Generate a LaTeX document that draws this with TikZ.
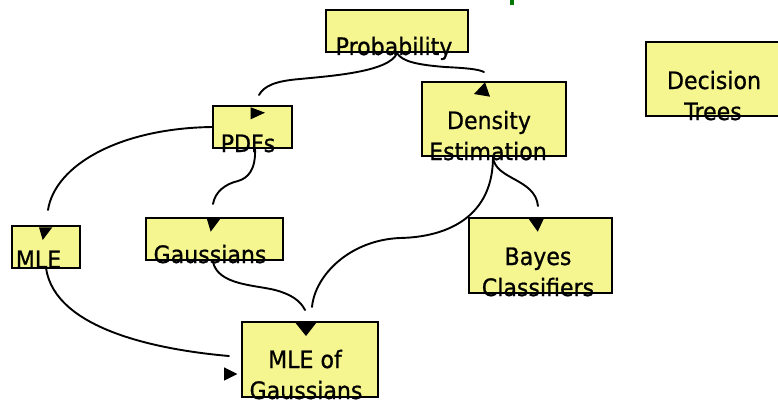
\documentclass[tikz,border=0pt]{standalone}
\usepackage{fontspec}
\setmainfont{DejaVu Sans}[FakeStretch=0.92,FakeBold=0.8]
\definecolor{boxfill}{RGB}{246,246,145}
\definecolor{titlegreen}{RGB}{0,120,0}
\tikzset{
  box/.style={draw=black, line width=2pt, fill=boxfill, inner sep=0pt, outer sep=0pt},
  lbl/.style={anchor=base, inner sep=0pt, text=black, font=\fontsize{24}{28}\selectfont},
  conn/.style={line width=1.9pt, line cap=round},
  tri/.style={fill=black}
}
\begin{document}
\begin{tikzpicture}[x=1pt,y=-1pt]
\useasboundingbox (0,0) rectangle (778,404);
% title fragment
\fill[titlegreen] (510,-1) rectangle (513.5,5);
% boxes
\node[box, minimum width=142pt, minimum height=42pt] (prob)  at (397,31) {};
\node[box, minimum width=144pt, minimum height=74pt] (dens)  at (494,119) {};
\node[box, minimum width=134pt, minimum height=74pt] (dec)   at (713,79) {};
\node[box, minimum width=79pt,  minimum height=42pt] (pdfs)  at (252.5,127) {};
\node[box, minimum width=68pt,  minimum height=42pt] (mle)   at (46,247) {};
\node[box, minimum width=137pt, minimum height=42pt] (gauss) at (214.5,239) {};
\node[box, minimum width=136pt, minimum height=75pt] (mleg)  at (310,359.5) {};
\node[box, minimum width=143pt, minimum height=75pt] (bayes) at (540.5,255.5) {};
% labels
\node[lbl] (tprob)  at (394,55)  {Probability};
\node[lbl] (tdens1) at (489,129) {Density};
\node[lbl] (tdens2) at (488,160) {Estimation};
\node[lbl] (tdec1)  at (714,89)  {Decision};
\node[lbl] (tdec2)  at (713,120) {Trees};
\node[lbl] (tpdfs)  at (248,152) {PDFs};
\node[lbl] (tmle)   at (38.5,268) {MLE};
\node[lbl] (tgauss) at (210,263) {Gaussians};
\node[lbl] (tmleg1) at (305,368) {MLE of};
\node[lbl] (tmleg2) at (306,399) {Gaussians};
\node[lbl] (tbay1)  at (538,265) {Bayes};
\node[lbl] (tbay2)  at (538,296) {Classifiers};
% connectors
\draw[conn] ([shift={(0,1)}]prob.south) .. controls (390,72) and (330,76) .. (300,79)
   .. controls (275,81) and (264,86) .. ([shift={(6.5,-11)}]pdfs.north);
\draw[conn] ([shift={(0,1)}]prob.south) .. controls (402,62) and (420,65) .. (445,67)
   .. controls (465,68) and (478,69) .. ([shift={(-10,-10)}]dens.north);
\draw[conn] (pdfs.west) .. controls (120,128) and (55,165) .. ([shift={(2,-16)}]mle.north);
\draw[conn] ([shift={(2.5,0)}]pdfs.south) .. controls (256,170) and (248,178) .. (238,181)
   .. controls (225,184) and (215,192) .. ([shift={(-1.5,-14)}]gauss.north);
\draw[conn] ([shift={(-1,1)}]dens.south) .. controls (495,180) and (535,178) .. ([shift={(-2.5,-12)}]bayes.north);
\draw[conn] ([shift={(-1,1)}]dens.south) .. controls (493,215) and (450,237) .. (400,238)
   .. controls (350,240) and (315,275) .. ([shift={(2,-15)}]mleg.north);
\draw[conn] ([shift={(-1.5,2)}]gauss.south) .. controls (218,285) and (255,285) .. (275,290)
   .. controls (290,294) and (300,300) .. ([shift={(-5,-12)}]mleg.north);
\draw[conn] (mle.south) .. controls (55,330) and (160,350) .. ([shift={(-13,-3.5)}]mleg.west);
% arrow heads
\fill[tri] (250.7,107.3) -- (265,112.7) -- (250.7,119.3) -- cycle;
\fill[tri] (39,227.3) -- (52.3,227.3) -- (42.7,240) -- cycle;
\fill[tri] (206.7,218.3) -- (220.7,218.3) -- (210.7,231.7) -- cycle;
\fill[tri] (295,322.3) -- (316.7,322.3) -- (306,336) -- cycle;
\fill[tri] (528.3,218.3) -- (544,218.3) -- (537.7,231.7) -- cycle;
\fill[tri] (485,82.3) -- (490,96.7) -- (474,94) -- cycle;
\fill[tri] (224,367.3) -- (237.3,374) -- (224,380.7) -- cycle;
\end{tikzpicture}
\end{document}
